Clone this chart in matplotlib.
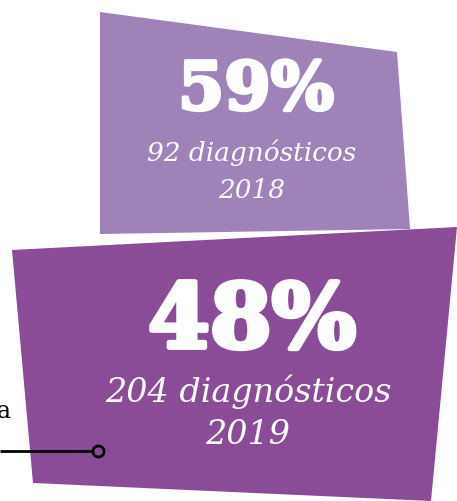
import matplotlib
matplotlib.use("Agg")
import matplotlib.pyplot as plt
import matplotlib.patheffects as pe
from matplotlib.patches import Polygon

# data
years = ["2018", "2019"]
percents = [59, 48]
diagnoses = [92, 204]

# panel colours (light for 2018, dark for 2019)
colors = ["#9f82b8", "#8a4c96"]

W, H = 457, 501
fig = plt.figure(figsize=(W / 100, H / 100), dpi=100)
ax = fig.add_axes([0, 0, 1, 1])
ax.set_xlim(0, W)
ax.set_ylim(H, 0)
ax.axis("off")

# skewed panels, in pixel space
shapes = [
    [(100, 12), (397, 52), (410, 229), (100, 234)],
    [(12, 250), (457, 227), (431, 501), (33, 483)],
]
# text layout per panel: center x, y of big number, line 1, line 2, sizes
layout = [
    dict(cx=256, y_pct=91, y1=153, y2=190, big=48, small=19, stroke=2.5),
    dict(cx=252, y_pct=323, y1=392, y2=435, big=64, small=24, stroke=3.5),
]

for shape, col, pct, n, yr, lay in zip(shapes, colors, percents, diagnoses, years, layout):
    ax.add_patch(Polygon(shape, closed=True, facecolor=col, edgecolor="none"))
    ax.text(lay["cx"], lay["y_pct"], f"{pct}%", color="white", fontsize=lay["big"],
            fontweight="heavy", family="DejaVu Serif", ha="center", va="center",
            path_effects=[pe.withStroke(linewidth=lay["stroke"], foreground="white")])
    ax.text(lay["cx"] - 4, lay["y1"], f"{n} diagnósticos", color="white",
            fontsize=lay["small"], style="italic", family="DejaVu Serif",
            ha="center", va="center")
    ax.text(lay["cx"] - 4, lay["y2"], yr, color="white", fontsize=lay["small"],
            style="italic", family="DejaVu Serif", ha="center", va="center")

# leader line coming in from the left
ax.plot([0, 94], [451, 451], color="black", lw=2, solid_capstyle="butt")
ax.plot([98], [451], marker="o", ms=8, mfc=colors[1], mec="black", mew=2)
ax.text(-3, 412, "a", color="black", fontsize=17, family="DejaVu Serif",
        ha="left", va="center")

fig.savefig("out.png", dpi=100)
